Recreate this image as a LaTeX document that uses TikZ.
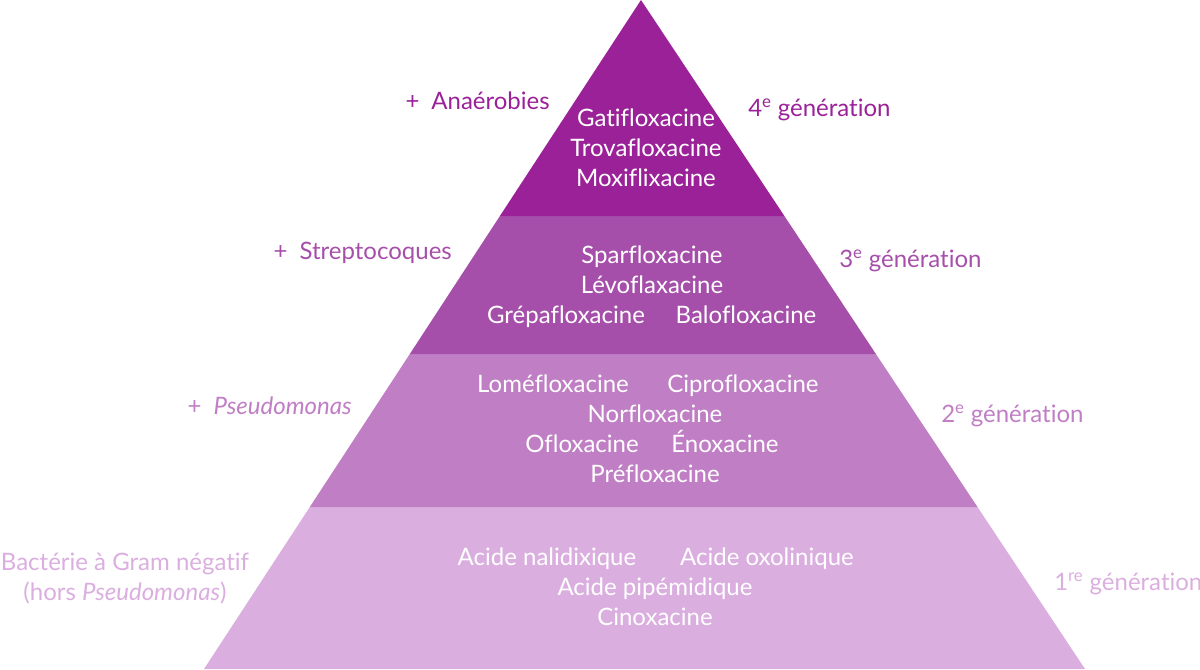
\documentclass[tikz,border=0pt]{standalone}
\usepackage{fontspec}
\setmainfont[Ligatures={TeX,NoCommon}]{Lato}
\usepackage{xcolor}
\usepackage{tikz}

\definecolor{genA}{HTML}{9B2198}
\definecolor{genB}{HTML}{A64FAA}
\definecolor{genC}{HTML}{C07EC5}
\definecolor{genD}{HTML}{DBAEE0}

\begin{document}
\begin{tikzpicture}[x=0.75pt,y=0.75pt,yscale=-1,xscale=1,
  drug/.style={anchor=base,inner sep=0.75pt,text=white,font=\fontsize{18}{21}\selectfont},
  leftlab/.style={anchor=base east,inner sep=0.75pt,font=\fontsize{18}{21}\selectfont},
  rightlab/.style={anchor=base west,inner sep=0.75pt,font=\fontsize{18}{21}\selectfont}]
\useasboundingbox (0,0) rectangle (1200,669);

%Shape: Band 1re generation
\fill [genD] (309.8,507) -- (977.5,507) -- (1085,669) -- (204,669) -- cycle ;
%Shape: Band 2e generation
\fill [genC] (409.8,354) -- (875.9,354) -- (977.5,507) -- (309.8,507) -- cycle ;
%Shape: Band 3e generation
\fill [genB] (499.9,216) -- (784.4,216) -- (875.9,354) -- (409.8,354) -- cycle ;
%Shape: Band 4e generation
\fill [genA] (641,0) -- (784.4,216) -- (499.9,216) -- cycle ;

% Text Node
\node [drug] (gati) at (646,126) {Gatifloxacine};
% Text Node
\node [drug] (trova) at (646,156) {Trovafloxacine};
% Text Node
\node [drug] (moxi) at (646,186) {Moxiflixacine};

% Text Node
\node [drug] (spar) at (652,263) {Sparfloxacine};
% Text Node
\node [drug] (levo) at (652,293) {Lévoflaxacine};
% Text Node
\node [drug] (grepa) at (566,323) {Grépafloxacine};
% Text Node
\node [drug] (balo) at (746,323) {Balofloxacine};

% Text Node
\node [drug] (lome) at (553,392) {Loméfloxacine};
% Text Node
\node [drug] (cipro) at (743,392) {Ciprofloxacine};
% Text Node
\node [drug] (norf) at (655,422) {Norfloxacine};
% Text Node
\node [drug] (oflo) at (582,452) {Ofloxacine};
% Text Node
\node [drug] (enox) at (725,452) {Énoxacine};
% Text Node
\node [drug] (pref) at (655,482) {Préfloxacine};

% Text Node
\node [drug] (nali) at (547,565) {Acide nalidixique};
% Text Node
\node [drug] (oxol) at (767,565) {Acide oxolinique};
% Text Node
\node [drug] (pipe) at (655,595) {Acide pipémidique};
% Text Node
\node [drug] (cino) at (655,625) {Cinoxacine};

% Text Node
\node [leftlab,text=genA] (anae) at (551,109) {+\enspace Anaérobies};
% Text Node
\node [leftlab,text=genB] (strep) at (453,259) {+\enspace Streptocoques};
% Text Node
\node [leftlab,text=genC] (pseudo) at (353,414) {+\enspace\textit{Pseudomonas}};
% Text Node
\node [anchor=base,inner sep=0.75pt,font=\fontsize{18}{21}\selectfont,text=genD] (gram) at (125,570) {Bactérie à Gram négatif};
% Text Node
\node [anchor=base,inner sep=0.75pt,font=\fontsize{18}{21}\selectfont,text=genD] (hors) at (125,600) {(hors \textit{Pseudomonas})};

% Text Node
\node [rightlab,text=genA] (gen4) at (747,116) {4\textsuperscript{e} génération};
% Text Node
\node [rightlab,text=genB] (gen3) at (838,267) {3\textsuperscript{e} génération};
% Text Node
\node [rightlab,text=genC] (gen2) at (940,422) {2\textsuperscript{e} génération};
% Text Node
\node [rightlab,text=genD] (gen1) at (1053,590) {1\textsuperscript{re} génération};

\end{tikzpicture}
\end{document}
